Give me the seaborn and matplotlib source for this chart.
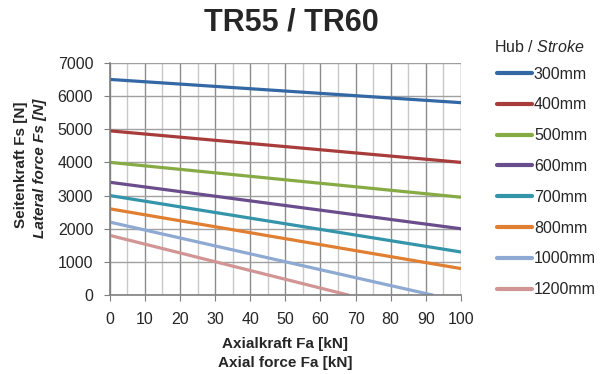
# side force vs axial force chart for TR55 / TR60

import matplotlib
matplotlib.use("Agg")
import matplotlib.pyplot as plt
from matplotlib.ticker import MultipleLocator
import pandas as pd
import seaborn as sns

strokes = ["300mm", "400mm", "500mm", "600mm", "700mm", "800mm", "1000mm", "1200mm"]
axial_start = [0, 0, 0, 0, 0, 0, 0, 0]
axial_end = [100, 100, 100, 100, 100, 100, 92, 68]
lateral_start = [6500, 4950, 4000, 3400, 3000, 2600, 2200, 1800]
lateral_end = [5800, 4000, 2950, 2000, 1300, 800, 0, 0]
colors = ["#3468a4", "#a73c3a", "#86ab45", "#6a4d8c", "#3495aa", "#e07f31", "#8ea9d2", "#d29595"]

rows = []
for s, x0, x1, y0, y1 in zip(strokes, axial_start, axial_end, lateral_start, lateral_end):
    rows.append({"stroke": s, "fa": x0, "fs": y0})
    rows.append({"stroke": s, "fa": x1, "fs": y1})
df = pd.DataFrame(rows)

sns.set_style("white")
plt.rcParams["font.family"] = ["Liberation Sans", "DejaVu Sans"]
plt.rcParams["mathtext.fontset"] = "custom"
plt.rcParams["mathtext.rm"] = "Liberation Sans"
plt.rcParams["mathtext.it"] = "Liberation Sans:italic"

fig = plt.figure(figsize=(6, 3.74), dpi=100)
ax = fig.add_axes([0.183, 0.211, 0.585, 0.621])

sns.lineplot(data=df, x="fa", y="fs", hue="stroke", hue_order=strokes,
             palette=colors, linewidth=2.3, ax=ax, legend=True)

ax.set_xlim(0, 100)
ax.set_ylim(0, 7000)
ax.xaxis.set_major_locator(MultipleLocator(10))
ax.xaxis.set_minor_locator(MultipleLocator(5))
ax.yaxis.set_major_locator(MultipleLocator(1000))
ax.grid(which="major", axis="x", color="#8c8c8c", linewidth=1)
ax.grid(which="minor", axis="x", color="#c8c8c8", linewidth=1)
ax.grid(which="major", axis="y", color="#a0a0a0", linewidth=1)
ax.set_axisbelow(True)
for side in ["top", "right"]:
    ax.spines[side].set_visible(False)
for side in ["left", "bottom"]:
    ax.spines[side].set_color("#7f7f7f")
    ax.spines[side].set_linewidth(1.2)
ax.tick_params(which="major", direction="out", length=4, color="#7f7f7f",
               labelsize=11.5, pad=8, bottom=True, left=True)
ax.tick_params(which="minor", length=0)
ax.set_xlabel("")
ax.set_ylabel("")

fig.text(0.486, 0.94, "TR55 / TR60", ha="center", va="center",
         fontsize=22, fontweight="bold")
fig.text(0.475, 0.081, "Axialkraft Fa [kN]", ha="center", va="center",
         fontsize=11, fontweight="bold")
fig.text(0.475, 0.030, "Axial force Fa [kN]", ha="center", va="center",
         fontsize=11, fontweight="bold")
fig.text(0.035, 0.56, "Seitenkraft Fs [N]", ha="center", va="center",
         rotation=90, fontsize=11, fontweight="bold")
fig.text(0.067, 0.55, "Lateral force Fs [N]", ha="center", va="center",
         rotation=90, fontsize=11, fontweight="bold", fontstyle="italic")

# legend title drawn separately so the gap to the entries can be set
fig.text(0.823, 0.874, "Hub / $\\mathit{Stroke}$", ha="left", va="center", fontsize=11.5)

handles, labels = ax.get_legend_handles_labels()
leg = ax.legend(handles, labels, loc="upper left", bbox_to_anchor=(0.818, 0.839),
                bbox_transform=fig.transFigure, frameon=False, fontsize=11.5,
                handlelength=2.2, handletextpad=0.1, labelspacing=0.99,
                borderaxespad=0)
for line in leg.get_lines():
    line.set_linewidth(3)

fig.savefig("out.png", dpi=100)
